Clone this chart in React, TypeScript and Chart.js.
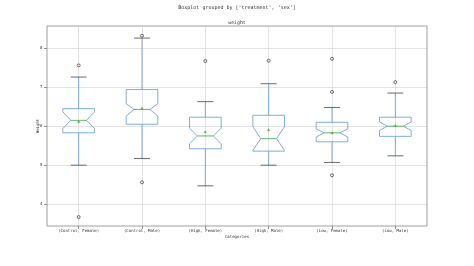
import { useEffect, useRef } from 'react';
import { Chart, registerables } from 'chart.js';

Chart.register(...registerables);

// Groups along the x axis
const categories = [
  '(Control, Female)',
  '(Control, Male)',
  '(High, Female)',
  '(High, Male)',
  '(Low, Female)',
  '(Low, Male)',
];

// Five-number summaries per group
const whiskerLow = [5.0, 5.17, 4.47, 5.0, 5.07, 5.24];
const q1 = [5.83, 6.05, 5.42, 5.36, 5.6, 5.74];
const median = [6.15, 6.43, 5.75, 5.68, 5.83, 6.0];
const q3 = [6.45, 6.94, 6.23, 6.28, 6.1, 6.23];
const whiskerHigh = [7.26, 8.26, 6.63, 7.09, 6.48, 6.85];

// Notch extents (confidence interval around the median)
const notchLow = [5.94, 6.26, 5.55, 5.38, 5.72, 5.89];
const notchHigh = [6.37, 6.58, 5.95, 5.99, 5.93, 6.11];

// Group means and fliers
const means = [6.11, 6.45, 5.85, 5.9, 5.82, 6.01];
const outliers = [[7.56, 3.67], [8.32, 4.56], [7.67], [7.68], [7.73, 6.88, 4.74], [7.13]];

const yTicks = [4, 5, 6, 7, 8];

const MONO = "'DejaVu Sans Mono', monospace";
const BOX_COLOR = '#5a9ad2';
const MEDIAN_COLOR = '#3aa83a';
const TEXT_COLOR = '#333';

export default function App() {
  const ref = useRef<HTMLCanvasElement>(null);

  useEffect(() => {
    document.body.style.margin = '0';
    const canvas = ref.current;
    if (!canvas) return;

    const outlierPoints = outliers.flatMap((vals, i) => vals.map((v) => ({ x: categories[i], y: v })));
    const meanPoints = means.map((v, i) => ({ x: categories[i], y: v }));

    const boxPlugin = {
      id: 'notchedBoxes',
      beforeDatasetsDraw(chart: any) {
        const { ctx, scales } = chart;
        const xs = scales.x;
        const ys = scales.y;
        const step = xs.getPixelForValue(1) - xs.getPixelForValue(0);
        const hw = step * 0.25;
        ctx.save();
        ctx.lineWidth = 0.8;
        categories.forEach((_, i) => {
          const cx = xs.getPixelForValue(i);
          const yQ1 = ys.getPixelForValue(q1[i]);
          const yQ3 = ys.getPixelForValue(q3[i]);
          const yMed = ys.getPixelForValue(median[i]);
          const yNl = ys.getPixelForValue(notchLow[i]);
          const yNh = ys.getPixelForValue(notchHigh[i]);
          const yWl = ys.getPixelForValue(whiskerLow[i]);
          const yWh = ys.getPixelForValue(whiskerHigh[i]);

          // whiskers
          ctx.strokeStyle = BOX_COLOR;
          ctx.beginPath();
          ctx.moveTo(cx, yQ3);
          ctx.lineTo(cx, yWh);
          ctx.moveTo(cx, yQ1);
          ctx.lineTo(cx, yWl);
          ctx.stroke();

          // caps
          ctx.strokeStyle = '#444';
          ctx.beginPath();
          ctx.moveTo(cx - hw / 2, yWh);
          ctx.lineTo(cx + hw / 2, yWh);
          ctx.moveTo(cx - hw / 2, yWl);
          ctx.lineTo(cx + hw / 2, yWl);
          ctx.stroke();

          // notched box
          ctx.strokeStyle = BOX_COLOR;
          ctx.fillStyle = '#fff';
          ctx.beginPath();
          ctx.moveTo(cx - hw, yQ3);
          ctx.lineTo(cx + hw, yQ3);
          ctx.lineTo(cx + hw, yNh);
          ctx.lineTo(cx + hw / 2, yMed);
          ctx.lineTo(cx + hw, yNl);
          ctx.lineTo(cx + hw, yQ1);
          ctx.lineTo(cx - hw, yQ1);
          ctx.lineTo(cx - hw, yNl);
          ctx.lineTo(cx - hw / 2, yMed);
          ctx.lineTo(cx - hw, yNh);
          ctx.closePath();
          ctx.stroke();

          // median
          ctx.strokeStyle = MEDIAN_COLOR;
          ctx.beginPath();
          ctx.moveTo(cx - hw / 2, yMed);
          ctx.lineTo(cx + hw / 2, yMed);
          ctx.stroke();
        });
        ctx.restore();
      },
    };

    const framePlugin = {
      id: 'frameAndText',
      afterDraw(chart: any) {
        const { ctx, chartArea } = chart;
        const { left, right, top, bottom } = chartArea;
        const midX = (left + right) / 2;
        ctx.save();
        ctx.strokeStyle = '#888';
        ctx.lineWidth = 0.8;
        ctx.strokeRect(left, top, right - left, bottom - top);

        ctx.fillStyle = TEXT_COLOR;
        ctx.textAlign = 'center';
        ctx.textBaseline = 'middle';
        ctx.font = `5px ${MONO}`;
        ctx.fillText("Boxplot grouped by ['treatment', 'sex']", midX, 7.5);
        ctx.font = `4.8px ${MONO}`;
        ctx.fillText('weight', midX, 22.5);
        ctx.font = `4px ${MONO}`;
        ctx.fillText('Categories', midX, 236.5);
        ctx.translate(37.5, (top + bottom) / 2);
        ctx.rotate(-Math.PI / 2);
        ctx.fillText('Weight', 0, 0);
        ctx.restore();
      },
    };

    const chart = new Chart(canvas, {
      type: 'line',
      data: {
        labels: categories,
        datasets: [
          {
            label: 'fliers',
            data: outlierPoints as any,
            showLine: false,
            pointStyle: 'circle',
            pointRadius: 1.5,
            pointBorderWidth: 0.7,
            pointBorderColor: '#333',
            pointBackgroundColor: 'rgba(0,0,0,0)',
          },
          {
            label: 'means',
            data: meanPoints as any,
            showLine: false,
            pointStyle: 'triangle',
            pointRadius: 1.3,
            pointBorderWidth: 0.4,
            pointBorderColor: MEDIAN_COLOR,
            pointBackgroundColor: MEDIAN_COLOR,
          },
        ],
      },
      options: {
        responsive: false,
        animation: false,
        devicePixelRatio: 1,
        layout: { padding: { top: 26, right: 47, left: 0, bottom: 0 } },
        plugins: {
          legend: { display: false },
          tooltip: { enabled: false },
        },
        scales: {
          x: {
            type: 'category',
            offset: true,
            grid: {
              offset: false,
              color: '#dcdcdc',
              lineWidth: 0.8,
              tickLength: 3,
              tickColor: '#777',
            },
            border: { display: false },
            ticks: {
              color: TEXT_COLOR,
              padding: 0,
              maxRotation: 0,
              autoSkip: false,
              font: { family: MONO, size: 4 },
            },
            afterFit(scale: any) {
              scale.height = 40;
            },
          },
          y: {
            type: 'linear',
            min: 3.44,
            max: 8.57,
            afterBuildTicks(scale: any) {
              scale.ticks = yTicks.map((v) => ({ value: v }));
            },
            grid: {
              color: '#dcdcdc',
              lineWidth: 0.8,
              tickLength: 3,
              tickColor: '#777',
            },
            border: { display: false },
            ticks: {
              color: TEXT_COLOR,
              padding: 1.5,
              font: { family: MONO, size: 4 },
            },
            afterFit(scale: any) {
              scale.width = 47;
            },
          },
        },
      },
      plugins: [boxPlugin, framePlugin],
    });

    return () => chart.destroy();
  }, []);

  return (
    <div style={{ width: 474, height: 266 }}>
      <canvas ref={ref} width={474} height={266} />
    </div>
  );
}
